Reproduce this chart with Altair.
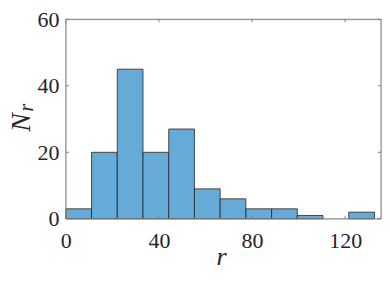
import altair as alt
import pandas as pd

bin_width = 11.05
counts = [3, 20, 45, 20, 27, 9, 6, 3, 3, 1, 0, 2]
x_ticks = [0, 40, 80, 120]
y_ticks = [0, 20, 40, 60]
x_max = 135.4
y_max = 60

bars = pd.DataFrame({
    "start": [i * bin_width for i in range(len(counts))],
    "end": [(i + 1) * bin_width for i in range(len(counts))],
    "count": counts,
})
bars = bars[bars["count"] > 0]

W, H = 316, 200
FONT = "Liberation Serif"
AX = "#808080"
TXT = "#262626"

xs = alt.Scale(domain=[0, x_max], nice=False, zero=False)
ys = alt.Scale(domain=[0, y_max], nice=False)

rects = alt.Chart(bars).mark_rect(fill="#66AAD7", stroke=TXT, strokeWidth=0.8).encode(
    x=alt.X("start:Q", scale=xs,
            axis=alt.Axis(values=x_ticks, title=None, tickSize=0, labelPadding=12,
                          labelFont=FONT, labelFontSize=22, labelColor=TXT,
                          domain=False, grid=False, labelFlush=False)),
    x2="end:Q",
    y=alt.Y("count:Q", scale=ys,
            axis=alt.Axis(values=y_ticks, title=None, tickSize=0, labelPadding=7,
                          labelFont=FONT, labelFontSize=22, labelColor=TXT,
                          domain=False, grid=False, labelFlush=False)),
    y2=alt.datum(0),
)

xt = pd.DataFrame({"v": x_ticks})
yt = pd.DataFrame({"v": y_ticks})
tb = alt.Chart(xt).mark_rule(color=AX, strokeWidth=1).encode(
    x=alt.X("v:Q", scale=xs), y=alt.value(H), y2=alt.value(H - 3))
tt = alt.Chart(xt).mark_rule(color=AX, strokeWidth=1).encode(
    x=alt.X("v:Q", scale=xs), y=alt.value(0), y2=alt.value(3))
tl = alt.Chart(yt).mark_rule(color=AX, strokeWidth=1).encode(
    y=alt.Y("v:Q", scale=ys), x=alt.value(0), x2=alt.value(3))
tr = alt.Chart(yt).mark_rule(color=AX, strokeWidth=1).encode(
    y=alt.Y("v:Q", scale=ys), x=alt.value(W), x2=alt.value(W - 3))

# box frame
frame_df = pd.DataFrame({"k": [0]})
f_top = alt.Chart(frame_df).mark_rule(color=AX, strokeWidth=1).encode(
    x=alt.value(0), x2=alt.value(W), y=alt.value(0))
f_bot = alt.Chart(frame_df).mark_rule(color=AX, strokeWidth=1).encode(
    x=alt.value(0), x2=alt.value(W), y=alt.value(H))
f_left = alt.Chart(frame_df).mark_rule(color=AX, strokeWidth=1).encode(
    x=alt.value(0), y=alt.value(0), y2=alt.value(H))
f_right = alt.Chart(frame_df).mark_rule(color=AX, strokeWidth=1).encode(
    x=alt.value(W), y=alt.value(0), y2=alt.value(H))

xtitle = alt.Chart(pd.DataFrame({"t": ["r"]})).mark_text(
    font=FONT, fontStyle="italic", fontSize=26,
    baseline="alphabetic", align="center", color=TXT).encode(
    text="t:N", x=alt.value(W / 2 - 2), y=alt.value(H + 46))
ntitle = alt.Chart(pd.DataFrame({"t": ["N"]})).mark_text(
    font=FONT, fontStyle="italic", fontSize=28, angle=270,
    baseline="middle", align="center", color=TXT).encode(
    text="t:N", x=alt.value(-44), y=alt.value(H / 2 + 3.5))
rsub = alt.Chart(pd.DataFrame({"t": ["r"]})).mark_text(
    font=FONT, fontStyle="italic", fontSize=20, angle=270,
    baseline="alphabetic", align="center", color=TXT).encode(
    text="t:N", x=alt.value(-33), y=alt.value(H / 2 - 11.5))

chart = alt.layer(rects, tb, tt, tl, tr, f_top, f_bot, f_left, f_right,
                  xtitle, ntitle, rsub).properties(
    width=W, height=H,
    padding={"left": 0, "top": 0, "right": 0, "bottom": 0},
)

chart.save("out.html", embed_options={"renderer": "svg", "actions": False})
